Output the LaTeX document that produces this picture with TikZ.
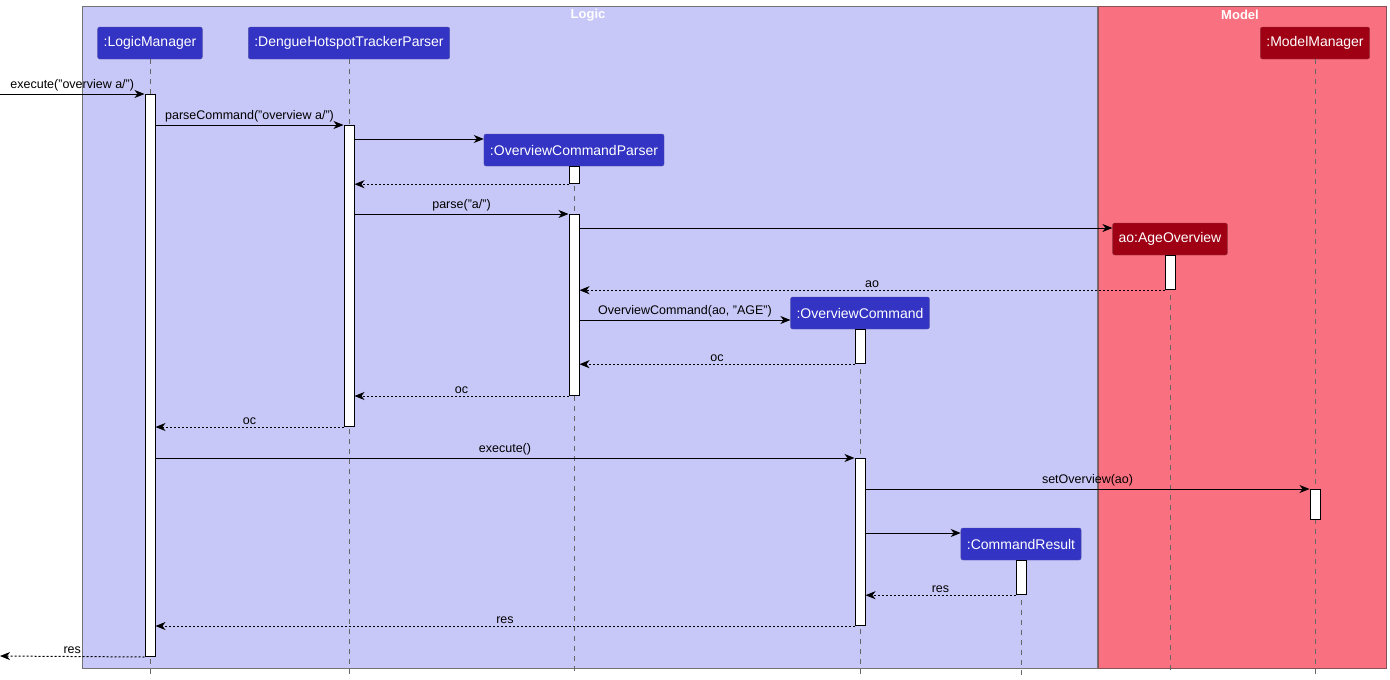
\documentclass[tikz,border=0pt]{standalone}
\usepackage{fontspec}
\setmainfont{Liberation Sans}
\usetikzlibrary{arrows.meta, positioning}
\definecolor{logicbg}{RGB}{200,200,248}
\definecolor{modelbg}{RGB}{249,113,128}
\definecolor{logicblue}{RGB}{51,51,196}
\definecolor{modelred}{RGB}{160,0,20}

\tikzset{
    part/.style={draw=#1!60!gray, fill=#1, text=white, rounded corners=2pt,
        minimum height=32, inner xsep=6pt, font=\fontsize{14}{16}\selectfont},
    act/.style={draw=black, fill=white, line width=1pt, minimum width=10, inner sep=0pt, anchor=north},
    lifeline/.style={draw=black!60, line width=0.8pt, dash pattern=on 5pt off 5pt},
    msg/.style={line width=1pt, -{Stealth[length=10pt, width=8pt, inset=3pt]}},
    ret/.style={msg, dash pattern=on 2pt off 2pt},
    lbl/.style={midway, above=-1pt, font=\fontsize{12.5}{14}\selectfont},
    frametitle/.style={text=white, font=\fontsize{13}{15}\selectfont\bfseries}
}

\begin{document}
\begin{tikzpicture}[x=1pt, y=-1pt]
    \useasboundingbox (0,0) rectangle (1390,680);

    % Boxes for the two components
    \draw[fill=logicbg, draw=black!55] (82,6) rectangle (1097,668);
    \draw[fill=modelbg, draw=black!45!modelbg!70!gray] (1098,6) rectangle (1386,668);
    \node[frametitle] (logicTitle) at (588,15) {Logic};
    \node[frametitle] (modelTitle) at (1240,15) {Model};

    % Participants
    \node[part=logicblue] (lm) at (150,43) {:LogicManager};
    \node[part=logicblue] (dh) at (349,43) {:DengueHotspotTrackerParser};
    \node[part=modelred] (mm) at (1315,43) {:ModelManager};
    \node[part=logicblue] (ocp) at (574,150) {:OverviewCommandParser};
    \node[part=modelred] (ao) at (1170,239) {ao:AgeOverview};
    \node[part=logicblue] (oc) at (860,313) {:OverviewCommand};
    \node[part=logicblue] (cr) at (1021,544) {:CommandResult};

    % Lifelines
    \foreach \p in {lm,dh,mm,ocp,ao,oc,cr} {
        \draw[lifeline] (\p.south) -- (\p.south |- 0,675);
    }

    % Activation bars
    \node[act, minimum height=562] (lmA) at (lm.south |- 0,94) {};
    \node[act, minimum height=301] (dhA) at (dh.south |- 0,125) {};
    \node[act, minimum height=17] (ocpA) at (ocp.south) {};
    \node[act, minimum height=181] (ocpB) at (ocp.south |- 0,214) {};
    \node[act, minimum height=34] (aoA) at (ao.south) {};
    \node[act, minimum height=34] (ocA) at (oc.south) {};
    \node[act, minimum height=167] (ocB) at (oc.south |- 0,458) {};
    \node[act, minimum height=30] (mmA) at (mm.south |- 0,489) {};
    \node[act, minimum height=34] (crA) at (cr.south) {};

    \coordinate (entry) at (0,94);
    \coordinate (exit) at (0,656);

    % Messages
    \draw[msg] (entry) -- (lmA.north west) node[lbl] {execute("overview a/")};
    \draw[msg] (lmA.east |- 0,125) -- (dhA.north west) node[lbl] {parseCommand("overview a/")};
    \draw[msg] (dhA.east |- 0,139) -- (ocp.west |- 0,139);
    \draw[ret] (ocpA.south west) -- (dhA.east |- ocpA.south);
    \draw[msg] (dhA.east |- 0,214) -- (ocpB.north west) node[lbl] {parse("a/")};
    \draw[msg] (ocpB.east |- 0,228) -- (ao.west |- 0,228);
    \draw[ret] (aoA.south west) -- (ocpB.east |- aoA.south) node[lbl] {ao};
    \draw[msg] (ocpB.east |- 0,320) -- (oc.west |- 0,320) node[lbl] {OverviewCommand(ao, "AGE")};
    \draw[ret] (ocA.south west) -- (ocpB.east |- ocA.south) node[lbl] {oc};
    \draw[ret] (ocpB.south west) -- (dhA.east |- ocpB.south) node[lbl] {oc};
    \draw[ret] (dhA.south west) -- (lmA.east |- dhA.south) node[lbl] {oc};
    \draw[msg] (lmA.east |- 0,458) -- (ocB.north west) node[lbl] {execute()};
    \draw[msg] (ocB.east |- 0,489) -- (mmA.north west) node[lbl] {setOverview(ao)};
    \draw[msg] (ocB.east |- 0,533) -- (cr.west |- 0,533);
    \draw[ret] (crA.south west) -- (ocB.east |- crA.south) node[lbl] {res};
    \draw[ret] (ocB.south west) -- (lmA.east |- ocB.south) node[lbl] {res};
    \draw[ret] (lmA.south west) -- (exit) node[lbl] {res};
\end{tikzpicture}
\end{document}
